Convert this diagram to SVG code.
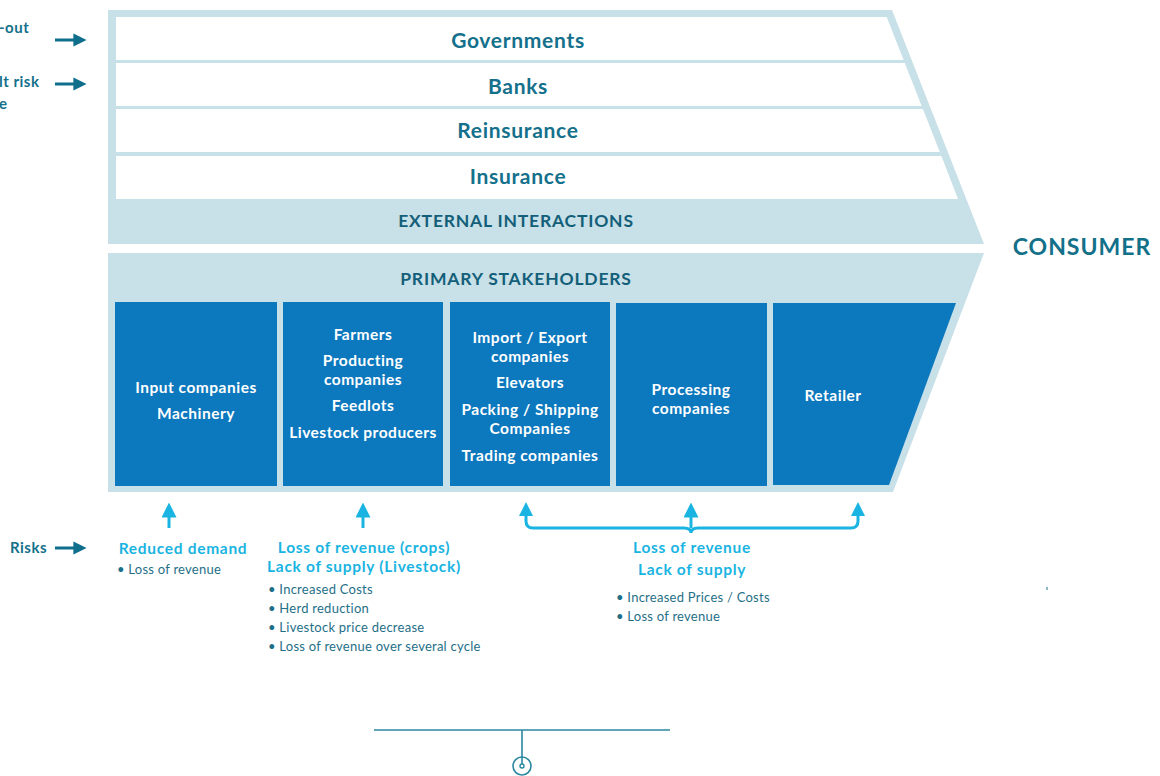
<svg xmlns="http://www.w3.org/2000/svg" width="1160" height="776" viewBox="0 0 1160 776">
<defs>
<style>
.bg{fill:#c8e0e7}
.row{fill:#ffffff}
.box{fill:#0c78bd}
.t{font-family:Lato,"Liberation Sans",sans-serif;font-weight:700;text-anchor:middle}
.ext{fill:#14708b;font-size:21px;letter-spacing:0.7px}
.hdr{fill:#135f7a;font-size:17.5px;letter-spacing:0.8px}
.bx{fill:#ffffff;font-size:15.5px;letter-spacing:0.5px}
.rk{fill:#1ab4e2;font-size:15.5px;letter-spacing:0.7px}
.bl{font-family:Lato,"Liberation Sans",sans-serif;font-size:13px;letter-spacing:0.25px;fill:#1f6f88}
.lt{font-family:Lato,"Liberation Sans",sans-serif;font-weight:700;font-size:15px;letter-spacing:0.5px;fill:#14708b}
.ar{stroke:#1ab4e2;stroke-width:3;fill:none}
.dk{stroke:#0e6e8c;stroke-width:3;fill:none}
</style>
<marker id="ah" viewBox="0 0 10 10" refX="5" refY="5" markerWidth="5" markerHeight="5" markerUnits="strokeWidth" orient="auto"><path d="M0,0 L10,5 L0,10 z" fill="#1ab4e2"/></marker>
<marker id="ad" viewBox="0 0 10 10" refX="5" refY="5" markerWidth="4.4" markerHeight="5" markerUnits="strokeWidth" orient="auto"><path d="M0,0 L10,5 L0,10 z" fill="#0e6e8c"/></marker>
</defs>

<g id="external">
<polygon class="bg" points="108,10 892,10 984,244 108,244"/>
<polygon class="row" points="116,17 886.7,17 903.6,60 116,60"/>
<polygon class="row" points="116,63 904.8,63 921.7,106 116,106"/>
<polygon class="row" points="116,109 922.9,109 939.8,152 116,152"/>
<polygon class="row" points="116,156 941.4,156 958,199 116,199"/>
<text class="t ext" x="518" y="48">Governments</text>
<text class="t ext" x="518" y="94">Banks</text>
<text class="t ext" x="518" y="138">Reinsurance</text>
<text class="t ext" x="518" y="184">Insurance</text>
<text class="t hdr" x="516" y="227">EXTERNAL INTERACTIONS</text>
</g>

<g id="consumer">
<text class="t" x="1082" y="255" style="fill:#137089;font-size:23px;letter-spacing:1px">CONSUMER</text>
</g>

<g id="primary">
<polygon class="bg" points="108,253 984,253 893,492 108,492"/>
<text class="t hdr" x="516" y="285">PRIMARY STAKEHOLDERS</text>
</g>

<g id="box-input">
<rect class="box" x="115" y="302" width="162" height="184"/>
<text class="t bx" x="196" y="393">Input companies</text>
<text class="t bx" x="196" y="419">Machinery</text>
</g>
<g id="box-farmers">
<rect class="box" x="283" y="302" width="160" height="184"/>
<text class="t bx" x="363" y="340">Farmers</text>
<text class="t bx" x="363" y="366">Producting</text>
<text class="t bx" x="363" y="385">companies</text>
<text class="t bx" x="363" y="411">Feedlots</text>
<text class="t bx" x="363" y="438">Livestock producers</text>
</g>
<g id="box-trade">
<rect class="box" x="450" y="302" width="160" height="184"/>
<text class="t bx" x="530" y="343">Import / Export</text>
<text class="t bx" x="530" y="362">companies</text>
<text class="t bx" x="530" y="388">Elevators</text>
<text class="t bx" x="530" y="415">Packing / Shipping</text>
<text class="t bx" x="530" y="434">Companies</text>
<text class="t bx" x="530" y="461">Trading companies</text>
</g>
<g id="box-processing">
<rect class="box" x="616" y="303" width="151" height="183"/>
<text class="t bx" x="691" y="395">Processing</text>
<text class="t bx" x="691" y="414">companies</text>
</g>
<g id="box-retailer">
<polygon class="box" points="773,303 956,303 889,485 773,485"/>
<text class="t bx" x="833" y="401">Retailer</text>
</g>

<g id="left-labels">
<text class="lt" x="-1" y="33">-out</text>
<text class="lt" x="-1" y="87">lt risk</text>
<text class="lt" x="-1" y="109">e</text>
<text class="lt" x="10" y="553">Risks</text>
</g>

<g id="connectors">
<line class="dk" x1="55" y1="40" x2="80" y2="40" marker-end="url(#ad)"/>
<line class="dk" x1="55" y1="84" x2="80" y2="84" marker-end="url(#ad)"/>
<line class="dk" x1="55" y1="548" x2="80" y2="548" marker-end="url(#ad)"/>
<line class="ar" x1="169" y1="528" x2="169" y2="510" marker-end="url(#ah)"/>
<line class="ar" x1="363" y1="528" x2="363" y2="510" marker-end="url(#ah)"/>
<path class="ar" d="M526,510 V521 Q526,528 533,528 H684 Q691,528 691,533 Q691,528 698,528 H851 Q858,528 858,521 V510"/>
<line class="ar" x1="691" y1="528" x2="691" y2="510" marker-end="url(#ah)"/>
<path d="M519,516 L526,502 L533,516 z" fill="#1ab4e2"/>
<path d="M851,516 L858,502 L865,516 z" fill="#1ab4e2"/>
<line x1="374" y1="730" x2="670" y2="730" stroke="#2b87a0" stroke-width="1.6"/>
<line x1="522" y1="730" x2="522" y2="764" stroke="#2b87a0" stroke-width="1.6"/>
<circle cx="522" cy="766" r="9" fill="none" stroke="#2b87a0" stroke-width="1.6"/>
<circle cx="522" cy="766" r="2" fill="none" stroke="#2b87a0" stroke-width="1.4"/>
<line x1="1047" y1="587" x2="1047" y2="590" stroke="#1f6f88" stroke-width="1"/>
</g>

<g id="risk-input">
<text class="t rk" x="183" y="554">Reduced demand</text>
<text class="bl" x="117" y="574">• Loss of revenue</text>
</g>
<g id="risk-farmers">
<text class="t rk" x="364" y="553">Loss of revenue (crops)</text>
<text class="t rk" x="364" y="572">Lack of supply (Livestock)</text>
<text class="bl" x="268" y="594">• Increased Costs</text>
<text class="bl" x="268" y="613">• Herd reduction</text>
<text class="bl" x="268" y="632">• Livestock price decrease</text>
<text class="bl" x="268" y="651">• Loss of revenue over several cycle</text>
</g>
<g id="risk-chain">
<text class="t rk" x="692" y="553">Loss of revenue</text>
<text class="t rk" x="692" y="575">Lack of supply</text>
<text class="bl" x="616" y="602">• Increased Prices / Costs</text>
<text class="bl" x="616" y="621">• Loss of revenue</text>
</g>
</svg>
